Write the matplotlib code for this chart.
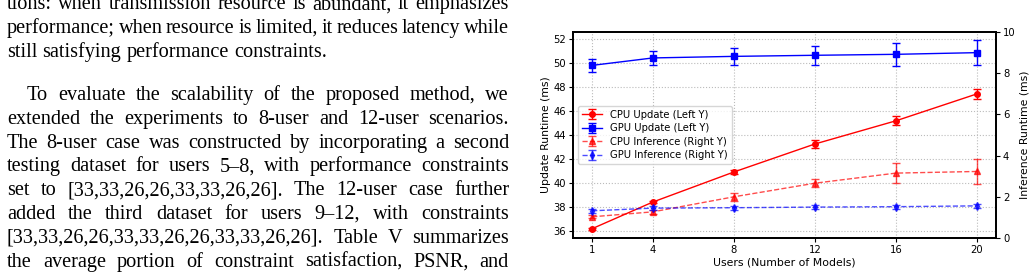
import matplotlib
matplotlib.use('Agg')
import matplotlib.pyplot as plt

# chart data
users = [1, 4, 8, 12, 16, 20]
cpu_update = [36.2, 38.42, 40.92, 43.25, 45.18, 47.42]
cpu_update_err = [0.08, 0.12, 0.15, 0.3, 0.38, 0.42]
gpu_update = [49.8, 50.42, 50.55, 50.64, 50.72, 50.86]
gpu_update_err = [0.55, 0.6, 0.7, 0.8, 0.95, 1.02]
cpu_infer = [1.03, 1.27, 2.0, 2.66, 3.15, 3.23]
cpu_infer_err = [0.07, 0.11, 0.18, 0.2, 0.47, 0.59]
gpu_infer = [1.32, 1.45, 1.47, 1.5, 1.52, 1.56]
gpu_infer_err = [0.1, 0.1, 0.1, 0.1, 0.1, 0.11]

# page text to the left of the chart
para1 = [
    "tions: when transmission resource is abundant, it emphasizes",
    "performance; when resource is limited, it reduces latency while",
    "still satisfying performance constraints.",
]
para2 = [
    "To evaluate the scalability of the proposed method, we",
    "extended the experiments to 8-user and 12-user scenarios.",
    "The 8-user case was constructed by incorporating a second",
    "testing dataset for users 5\u20138, with performance constraints",
    "set to [33,33,26,26,33,33,26,26]. The 12-user case further",
    "added the third dataset for users 9\u201312, with constraints",
    "[33,33,26,26,33,33,26,26,33,33,26,26]. Table V summarizes",
    "the average portion of constraint satisfaction, PSNR, and",
]

W, H = 1032, 278
fig = plt.figure(figsize=(W / 100, H / 100), dpi=100)
renderer = fig.canvas.get_renderer()

TEXT_FONT = dict(family='Liberation Serif', size=14.6, color='black')
LEFT, RIGHT = 7, 509


def text_width(s):
    t = fig.text(0, 0, s, **TEXT_FONT)
    w = t.get_window_extent(renderer).width
    t.remove()
    return w


SPACE = text_width('a a') - text_width('aa')


def draw_line(line, x0, baseline, justify):
    words = line.split(' ')
    widths = [text_width(w) for w in words]
    if justify and len(words) > 1:
        gap = (RIGHT - x0 - sum(widths)) / (len(words) - 1)
    else:
        gap = SPACE
    x = x0
    for w, wd in zip(words, widths):
        fig.text(x / W, 1 - baseline / H, w, va='baseline', ha='left', **TEXT_FONT)
        x += wd + gap


def draw_paragraph(lines, first_baseline, indent, last_justified):
    for i, line in enumerate(lines):
        x0 = LEFT + (indent if i == 0 else 0)
        justify = last_justified or i < len(lines) - 1
        draw_line(line, x0, first_baseline + i * 23.8, justify)


draw_paragraph(para1, 9.2, 0, False)
draw_paragraph(para2, 100.0, 20, True)

# chart
ax = fig.add_axes([573 / W, 1 - 238 / H, 423 / W, 206 / H])
ax2 = ax.twinx()

ek = dict(capsize=3, elinewidth=1, capthick=1, linewidth=1, markersize=4)
h1 = ax.errorbar(users, cpu_update, yerr=cpu_update_err, color='red', marker='o',
                 linestyle='-', label='CPU Update (Left Y)', **ek)
h2 = ax.errorbar(users, gpu_update, yerr=gpu_update_err, color='blue', marker='s',
                 linestyle='-', label='GPU Update (Left Y)', **ek)
h3 = ax2.errorbar(users, cpu_infer, yerr=cpu_infer_err, color='red', marker='^',
                  linestyle='--', alpha=0.7, label='CPU Inference (Right Y)', **ek)
h4 = ax2.errorbar(users, gpu_infer, yerr=gpu_infer_err, color='blue', marker='d',
                  linestyle='--', alpha=0.7, label='GPU Inference (Right Y)', **ek)

ax.set_xlim(0.05, 20.95)
ax.set_ylim(35.42, 52.58)
ax2.set_ylim(0, 10)
ax.set_xticks(users)
ax.set_yticks([36, 38, 40, 42, 44, 46, 48, 50, 52])
ax2.set_yticks([0, 2, 4, 6, 8, 10])
ax.grid(True, linestyle=':', color='#bbbbbb', linewidth=0.8)

ax.set_xlabel('Users (Number of Models)', fontsize=7.8, labelpad=1.5)
ax.set_ylabel('Update Runtime (ms)', fontsize=7.8, labelpad=1.5)
ax2.set_ylabel('Inference Runtime (ms)', fontsize=7.8, labelpad=3)
for a in (ax, ax2):
    a.tick_params(labelsize=7.2, length=3, width=0.8, pad=2)
    for s in a.spines.values():
        s.set_linewidth(1.3)

ax2.legend([h1, h2, h3, h4], [h.get_label() for h in (h1, h2, h3, h4)],
           loc='center left', fontsize=7.2, borderaxespad=0.5, handlelength=2.0,
           labelspacing=0.35)

fig.savefig('out.png', dpi=100)
